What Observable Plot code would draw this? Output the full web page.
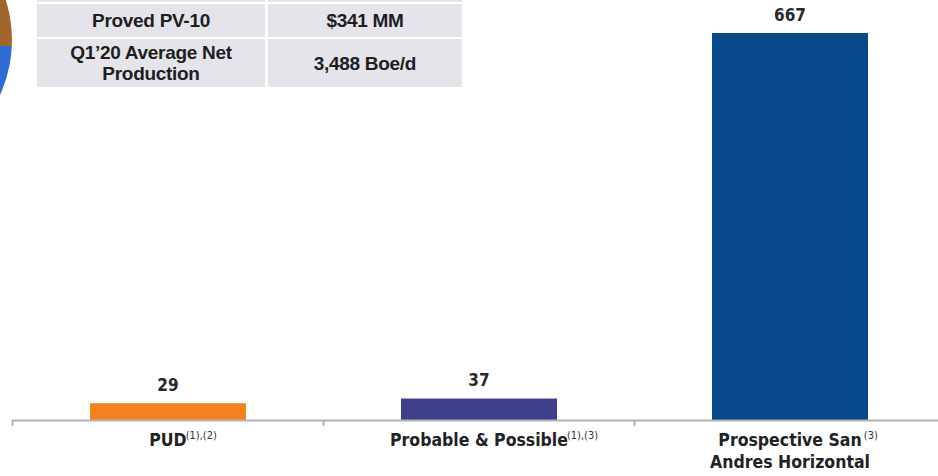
<!DOCTYPE html>
<html>
<head>
<meta charset="utf-8">
<script src="https://cdn.jsdelivr.net/npm/d3@7"></script>
<script src="https://cdn.jsdelivr.net/npm/@observablehq/plot@0.6"></script>
<style>
  html, body { margin: 0; padding: 0; background: #fff; }
  #wrap { position: relative; width: 938px; height: 476px; overflow: hidden; }
  #pie { position: absolute; left: -252px; top: -92px; width: 264px; height: 264px; border-radius: 50%;
         background: linear-gradient(to bottom, #a2652d 0, #a2652d 138px, #2f6cd4 138px, #2f6cd4 100%); }
  #tbl { position: absolute; left: 34px; top: -33px; border-collapse: separate; border-spacing: 3px 2px;
         font-family: "Liberation Sans", Arial, sans-serif; font-weight: bold; font-size: 19px; color: #1e1e1e;
         letter-spacing: -0.3px; }
  #tbl td { background: #e4e4ea; text-align: center; padding: 0; line-height: 21px; box-sizing: border-box; }
  #tbl td.a { width: 228px; }
  #tbl td.b { width: 194px; }
  #chart { position: absolute; left: 0; top: 0; }
</style>
</head>
<body>
<div id="wrap">
  <div id="pie"></div>
  <div id="chart"></div>
  <table id="tbl"></table>
</div>
<script>
// ---- data ----
const categories = ["PUD", "Probable & Possible", "Prospective San\nAndres Horizontal"];
const values = [29, 37, 667];
const footnotes = ["(1),(2)", "(1),(3)", "\u00a0(3)"];
const barColors = ["#f5821f", "#3f3f8e", "#06488a"];
const tableLabels = ["", "Proved PV-10", "Q1’20 Average Net\nProduction"];
const tableValues = ["", "$341 MM", "3,488 Boe/d"];

// ---- table ----
const tbl = document.getElementById("tbl");
const rowHeights = [33, 33, 48];
tableLabels.forEach((lab, i) => {
  const tr = document.createElement("tr");
  const a = document.createElement("td"); a.className = "a";
  a.innerHTML = lab.replace("\n", "<br>");
  const b = document.createElement("td"); b.className = "b";
  b.textContent = tableValues[i];
  a.style.height = b.style.height = rowHeights[i] + "px";
  tr.appendChild(a); tr.appendChild(b); tbl.appendChild(tr);
});

// ---- chart ----
const font = "'Liberation Sans Narrow', 'Arial Narrow', 'DejaVu Sans Condensed', sans-serif";
const fontSize = 17.5;
const data = categories.map((c, i) => ({cat: c, value: values[i], note: footnotes[i]}));

const ctx = document.createElement("canvas").getContext("2d");
ctx.font = `bold ${fontSize}px 'DejaVu Sans Condensed', sans-serif`;
const firstLineHalf = c => ctx.measureText(c.split("\n")[0]).width / 2;

const noteMarks = data.map(d =>
  Plot.text([d], {x: "cat", y: 0, text: "note", textAnchor: "start", lineAnchor: "middle",
    dx: firstLineHalf(d.cat) - 1, dy: 15, fontSize: 11, fill: "#333"})
);

const W = 938, H = 476;
const plot = Plot.plot({
  width: W, height: H,
  marginLeft: 12, marginRight: 0, marginTop: 33, marginBottom: 56,
  style: {fontFamily: font, background: "transparent", overflow: "visible"},
  x: {type: "band", domain: categories, range: [12, 945], padding: 0, axis: null},
  y: {domain: [0, 667], axis: null},
  color: {domain: categories, range: barColors},
  marks: [
    Plot.barY(data, {x: "cat", y: "value", fill: "cat", insetLeft: 78, insetRight: 77}),
    Plot.ruleY([0], {stroke: "#b3b3b3", strokeWidth: 2}),
    Plot.ruleX(categories, {x: d => d, y1: 0, y2: 0, dx: -155.5, insetBottom: -6, stroke: "#b3b3b3", strokeWidth: 2}),
    Plot.text(data, {x: "cat", y: "value", text: d => String(d.value), dy: -18,
      fontSize: 17, fontWeight: "bold", fill: "#2a2a2a"}),
    Plot.text(data, {x: "cat", y: 0, text: "cat", dy: 10, lineAnchor: "top", lineHeight: 22 / fontSize,
      fontSize: fontSize, fontWeight: "bold", fill: "#222"}),
    ...noteMarks
  ]
});
document.getElementById("chart").appendChild(plot);
</script>
</body>
</html>
